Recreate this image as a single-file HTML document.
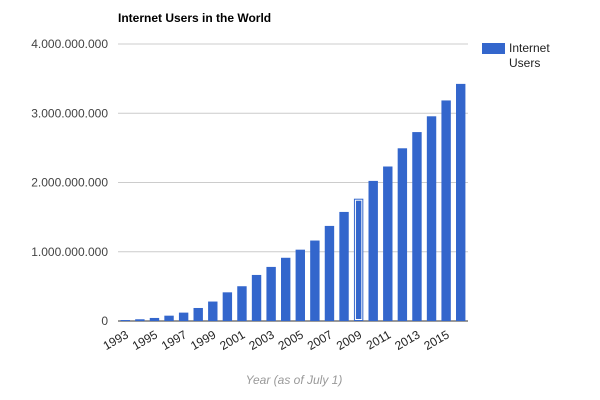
<!DOCTYPE html>
<html><head><meta charset="utf-8"><style>
body{margin:0;background:#fff;}
svg{font-family:"Liberation Sans",Arial,sans-serif;display:block}
</style></head><body>
<svg id="c" width="600" height="400">
<text x="118" y="22" font-size="12" font-weight="bold" fill="#000">Internet Users in the World</text>
<g id="grid"></g><g id="bars"></g><g id="xl"></g>
<rect x="482" y="43" width="23" height="11" fill="#3366cc"/>
<text x="509" y="52" font-size="12" fill="#222"><tspan x="509">Internet</tspan><tspan x="509" dy="15">Users</tspan></text>
<text x="294" y="384" font-size="12" font-style="italic" fill="#999" text-anchor="middle">Year (as of July 1)</text>
</svg>
<script>
const years=[1993,1994,1995,1996,1997,1998,1999,2000,2001,2002,2003,2004,2005,2006,2007,2008,2009,2010,2011,2012,2013,2014,2015,2016];
const users=[14,25,44,77,121,188,281,414,502,665,781,913,1030,1162,1373,1575,1766,2023,2231,2494,2728,2956,3185,3424];
const yTicks=[0,1000,2000,3000,4000];
const yTickLabels=["0","1.000.000.000","2.000.000.000","3.000.000.000","4.000.000.000"];
const highlightYear=2009;
const NS="http://www.w3.org/2000/svg";
const x0=118,x1=468,yb=321,yt=44;
const slot=(x1-x0)/years.length,bw=9.4;
const ys=v=>yb-(v/4000)*(yb-yt);
const xs=i=>x0+i*slot+(slot-bw)/2;
function mk(t,a,p){const e=document.createElementNS(NS,t);for(const k in a)e.setAttribute(k,a[k]);p.appendChild(e);return e;}
const g=document.getElementById('grid');
yTicks.forEach((v,i)=>{
 const l=mk('line',{x1:x0,x2:x1,y1:ys(v),y2:ys(v),stroke:v===0?'#333':'#ccc','stroke-width':1},g);
 
 
 const t=mk('text',{x:108,y:ys(v)+4,'font-size':12,fill:'#444','text-anchor':'end'},g);
 t.textContent=yTickLabels[i];
 
 
});
const b=document.getElementById('bars');
users.forEach((v,i)=>{
 const r=mk('rect',{x:xs(i),y:ys(v),width:bw,height:yb-ys(v),fill:'#3366cc'},b);
 
 
 if(years[i]===highlightYear){
  const h=mk('rect',{x:xs(i)+1.5,y:ys(v)+1.5,width:bw-3,height:yb-ys(v)-3,fill:'none',stroke:'#fff','stroke-width':1},b);
  
  
 }
});
const xl=document.getElementById('xl');
years.forEach((y,i)=>{
 if(i%2)return;
 const cx=x0+i*slot+slot/2+4,cy=yb+16;
 const t=mk('text',{x:cx,y:cy,'font-size':12,fill:'#222','text-anchor':'end',transform:`rotate(-30 ${cx} ${cy})`},xl);
 t.textContent=y;
 
 
});
</script>
</body></html>
